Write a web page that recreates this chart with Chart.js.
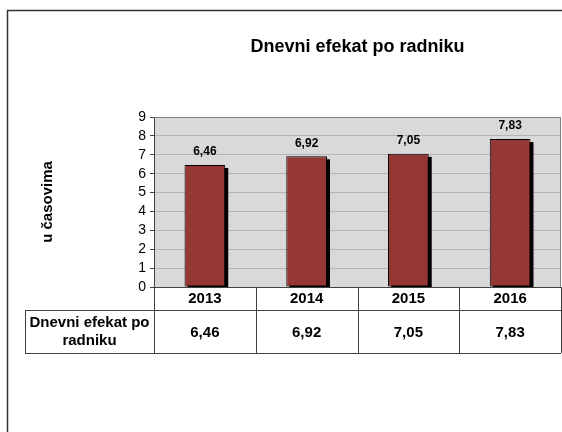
<!DOCTYPE html>
<html>
<head>
<meta charset="utf-8">
<script src="https://cdn.jsdelivr.net/npm/chart.js@4/dist/chart.umd.min.js"></script>
<style>
  html, body { margin: 0; padding: 0; background: #ffffff; }
  #wrap { width: 562px; height: 432px; position: relative; }
</style>
</head>
<body>
<div id="wrap"><canvas id="c" width="562" height="432"></canvas></div>
<script>
const categories = ['2013', '2014', '2015', '2016'];
const values = [6.46, 6.92, 7.05, 7.83];
const seriesName = ['Dnevni efekat po', 'radniku'];
const chartTitle = 'Dnevni efekat po radniku';
const yAxisTitle = 'u časovima';
const yTicks = [0, 1, 2, 3, 4, 5, 6, 7, 8, 9];

const FONT = '"Liberation Sans", Arial, sans-serif';
const fmt = v => v.toFixed(2).replace('.', ',');

const bgPlugin = {
  id: 'plotBg',
  beforeDraw(chart) {
    const { ctx, chartArea: a } = chart;
    ctx.save();
    ctx.fillStyle = '#ffffff';
    ctx.fillRect(0, 0, chart.width, chart.height);
    ctx.fillStyle = '#d9d9d9';
    ctx.fillRect(a.left, a.top, a.right - a.left, a.bottom - a.top);
    ctx.restore();
  }
};

const shadowPlugin = {
  id: 'barShadow',
  beforeDatasetsDraw(chart) {
    const { ctx, chartArea: a } = chart;
    const meta = chart.getDatasetMeta(0);
    ctx.save();
    ctx.beginPath();
    ctx.rect(a.left, a.top, a.right - a.left, a.bottom - a.top);
    ctx.clip();
    ctx.fillStyle = '#000000';
    meta.data.forEach(bar => {
      const p = bar.getProps(['x', 'y', 'base', 'width'], true);
      ctx.fillRect(p.x - p.width / 2 + 3, p.y + 3, p.width, p.base - p.y);
    });
    ctx.restore();
  }
};

const overlayPlugin = {
  id: 'overlay',
  afterDraw(chart) {
    const { ctx, chartArea: a, scales } = chart;
    const x = scales.x;
    ctx.save();
    // plot border (top & right)
    ctx.strokeStyle = '#808080';
    ctx.lineWidth = 1;
    ctx.beginPath();
    ctx.moveTo(a.left, a.top + 0.5);
    ctx.lineTo(a.right - 0.5, a.top + 0.5);
    ctx.lineTo(a.right - 0.5, a.bottom);
    ctx.stroke();

    // chart title centred over the plot area
    ctx.fillStyle = '#000000';
    ctx.textAlign = 'center';
    ctx.textBaseline = 'middle';
    ctx.font = 'bold 18px ' + FONT;
    ctx.fillText(chartTitle, (a.left + a.right) / 2, 47);

    // data labels
    const meta = chart.getDatasetMeta(0);
    ctx.font = 'bold 12px ' + FONT;
    meta.data.forEach((bar, i) => {
      ctx.fillText(fmt(values[i]), bar.x, bar.y - 13);
    });

    // data table
    const half = (x.getPixelForValue(1) - x.getPixelForValue(0)) / 2;
    const rowTop = x.bottom;
    const rowBottom = rowTop + 43;
    const tableLeft = 25;
    ctx.strokeStyle = '#404040';
    ctx.lineWidth = 1;
    ctx.beginPath();
    for (let i = 0; i <= categories.length; i++) {
      const px = i < categories.length ? x.getPixelForValue(i) - half : x.getPixelForValue(categories.length - 1) + half;
      const xx = Math.min(Math.round(px) + 0.5, chart.width - 0.5);
      ctx.moveTo(xx, a.bottom);
      ctx.lineTo(xx, rowBottom);
    }
    ctx.moveTo(tableLeft + 0.5, rowTop + 0.5);
    ctx.lineTo(tableLeft + 0.5, rowBottom + 0.5);
    ctx.moveTo(tableLeft, rowTop + 0.5);
    ctx.lineTo(a.right, rowTop + 0.5);
    ctx.moveTo(tableLeft, rowBottom + 0.5);
    ctx.lineTo(a.right, rowBottom + 0.5);
    ctx.stroke();

    ctx.font = 'bold 15px ' + FONT;
    values.forEach((v, i) => {
      ctx.fillText(fmt(v), x.getPixelForValue(i), (rowTop + rowBottom) / 2 + 1);
    });
    const cx = (tableLeft + a.left) / 2;
    ctx.fillText(seriesName[0], cx, rowTop + 13);
    ctx.fillText(seriesName[1], cx, rowTop + 31);

    // outer frame
    ctx.strokeStyle = '#333333';
    ctx.lineWidth = 1.5;
    ctx.beginPath();
    ctx.moveTo(7.5, chart.height);
    ctx.lineTo(7.5, 10.5);
    ctx.lineTo(chart.width, 10.5);
    ctx.stroke();
    ctx.restore();
  }
};

new Chart(document.getElementById('c'), {
  type: 'bar',
  data: {
    labels: categories,
    datasets: [{
      label: chartTitle,
      data: values,
      backgroundColor: '#953735',
      borderColor: '#000000',
      borderWidth: 1,
      borderSkipped: false,
      categoryPercentage: 1.0,
      barPercentage: 0.4
    }]
  },
  options: {
    responsive: false,
    animation: false,
    devicePixelRatio: 1,
    layout: { padding: { left: 0, right: 1, top: 117, bottom: 122 } },
    plugins: {
      legend: { display: false },
      tooltip: { enabled: false },
      title: { display: false }
    },
    scales: {
      x: {
        grid: { display: false, drawTicks: false },
        border: { display: true, color: '#404040', width: 1 },
        ticks: {
          color: '#000000',
          font: { family: FONT, size: 15, weight: 'bold' },
          padding: 3,
          maxRotation: 0
        },
        afterFit: s => { s.height = 23; }
      },
      y: {
        min: 0,
        max: 9,
        afterBuildTicks: s => { s.ticks = yTicks.map(v => ({ value: v })); },
        grid: { color: '#b4b4b4', tickColor: '#404040', tickLength: 4, lineWidth: 1 },
        border: { display: true, color: '#404040', width: 1 },
        ticks: {
          color: '#000000',
          font: { family: FONT, size: 14 },
          padding: 4,
          autoSkip: false
        },
        title: {
          display: true,
          text: yAxisTitle,
          color: '#000000',
          font: { family: FONT, size: 15, weight: 'bold' },
          padding: { top: 39, bottom: 0 }
        },
        afterFit: s => { s.width = 154; }
      }
    }
  },
  plugins: [bgPlugin, shadowPlugin, overlayPlugin]
});
</script>
</body>
</html>
